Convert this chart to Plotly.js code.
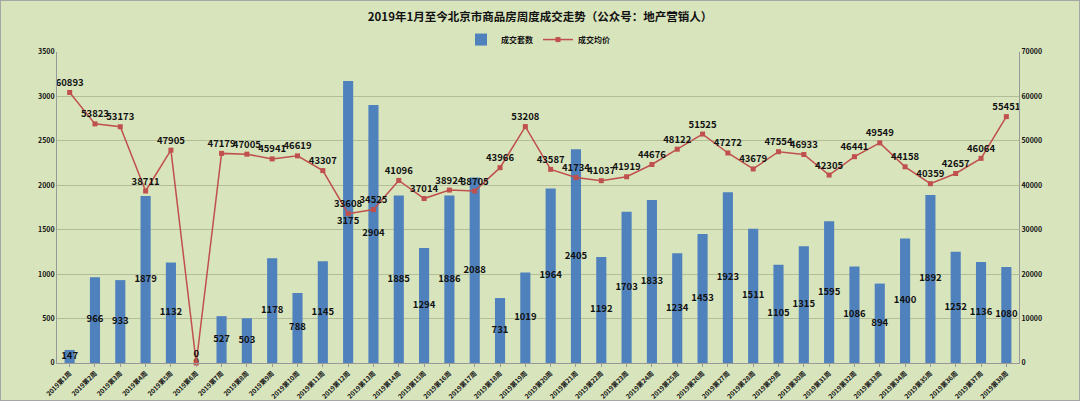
<!DOCTYPE html>
<html><head><meta charset="utf-8">
<script src="https://cdn.plot.ly/plotly-3.0.1.min.js"></script>
<style>
html,body{margin:0;padding:0;background:#d8e4bc;}
#chart{width:1078px;height:399px;border:1px solid #a6a6a6;}
</style></head>
<body><div id="chart"></div>
<script>
const weeks = ["2019第1周","2019第2周","2019第3周","2019第4周","2019第5周","2019第6周","2019第7周","2019第8周","2019第9周","2019第10周","2019第11周","2019第12周","2019第13周","2019第14周","2019第15周","2019第16周","2019第17周","2019第18周","2019第19周","2019第20周","2019第21周","2019第22周","2019第23周","2019第24周","2019第25周","2019第26周","2019第27周","2019第28周","2019第29周","2019第30周","2019第31周","2019第32周","2019第33周","2019第34周","2019第35周","2019第36周","2019第37周","2019第38周"];
const units = [147,966,933,1879,1132,0,527,503,1178,788,1145,3175,2904,1885,1294,1886,2088,731,1019,1964,2405,1192,1703,1833,1234,1453,1923,1511,1105,1315,1595,1086,894,1400,1892,1252,1136,1080];
const prices = [60893,53823,53173,38711,47905,0,47179,47005,45941,46619,43307,33608,34525,41096,37014,38924,38705,43966,53208,43587,41734,41037,41919,44676,48122,51525,47272,43679,47554,46933,42305,46441,49549,44158,40359,42657,46064,55451];
const title = "2019年1月至今北京市商品房周度成交走势（公众号：地产营销人）";
const seriesNames = ["成交套数","成交均价"];

const fontFam = "'Noto Sans CJK SC','Noto Sans',sans-serif";
const labelFont = {family: fontFam, size: 9.5, color: '#111', weight: 'bold'};

const traces = [
  {type:'bar', name:seriesNames[0], x:weeks, y:units, marker:{color:'#4f81bd'}, hoverinfo:'none'},
  {type:'scatter', mode:'text', x:weeks, y:units.map(v=>v/2), text:units.map(String),
   textposition:'middle center', textfont:labelFont, showlegend:false, hoverinfo:'none', cliponaxis:false},
  {type:'scatter', mode:'lines+markers+text', name:seriesNames[1], x:weeks, y:prices, yaxis:'y2',
   line:{color:'#c0504d', width:1.5}, marker:{symbol:'square', size:5, color:'#c0504d'},
   text:prices.map(String), textposition:'top center', textfont:labelFont, hoverinfo:'none', cliponaxis:false}
];

const layout = {
  width:1078, height:399,
  paper_bgcolor:'#d8e4bc', plot_bgcolor:'#d8e4bc',
  margin:{l:56, r:60, t:51, b:37},
  title:{text:title, x:0.5, xanchor:'center', y:0.96, yanchor:'middle',
         font:{family:fontFam, size:11.5, color:'#111', weight:'bold'}},
  showlegend:true,
  legend:{orientation:'h', x:0.5, xanchor:'center', y:1.04, yanchor:'middle',
          font:{family:fontFam, size:8, color:'#111', weight:'bold'}, bgcolor:'rgba(0,0,0,0)', traceorder:'normal'},
  bargap:0.6,
  xaxis:{type:'category', range:[-0.5, weeks.length-0.5], tickangle:-45,
         tickfont:{family:fontFam, size:6.5, color:'#111', weight:'bold'},
         showline:true, linecolor:'#999', ticks:'outside', ticklen:3, tickcolor:'#999', showgrid:false, automargin:false},
  yaxis:{range:[0,3500], dtick:500, tickformat:'d', tickfont:{family:fontFam, size:7, color:'#111', weight:'bold'},
         showline:true, linecolor:'#999', gridcolor:'#b3be98', gridwidth:1, zeroline:false, ticks:'', automargin:false},
  yaxis2:{range:[0,70000], dtick:10000, tickformat:'d', overlaying:'y', side:'right', showgrid:false,
          tickfont:{family:fontFam, size:7, color:'#111', weight:'bold'},
          showline:true, linecolor:'#999', zeroline:false, automargin:false}
};
Plotly.newPlot('chart', traces, layout, {displayModeBar:false, staticPlot:true});
</script></body></html>
